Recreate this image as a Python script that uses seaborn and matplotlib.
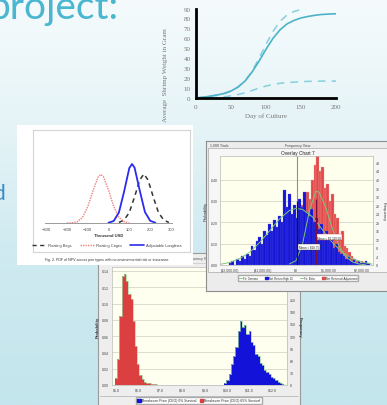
import numpy as np
import matplotlib
matplotlib.use("Agg")
import matplotlib.pyplot as plt
import seaborn as sns
from matplotlib.colors import LinearSegmentedColormap
from matplotlib.lines import Line2D
from matplotlib.patches import Patch

sns.set_style("white")
plt.rcParams["font.family"] = ["Liberation Sans", "DejaVu Sans"]

W, H = 387, 406

# ---------------- data ----------------
# Growth chart (top right)
culture_day = [0, 10, 20, 30, 40, 50, 60, 70, 80, 90, 100, 110, 120, 130, 140, 150, 160, 170, 180, 190, 200]
weight_expected = [0, 0.8, 1.8, 3, 4.5, 7, 11, 17, 26, 37, 49, 60, 68.5, 74.5, 78, 80.5, 82, 83.2, 84, 84.4, 84.7]
weight_upper = [0, 0.8, 1.8, 3, 4.5, 7, 11, 17, 27, 40, 54, 67, 77, 83.5, 87, 89, 90.5, 91.5, 92, 92.5, 93]
weight_lower = [0, 0.1, 0.3, 0.6, 1.2, 2.2, 3.5, 5.2, 7.5, 10, 12, 13.6, 14.8, 15.5, 16, 16.4, 16.7, 16.9, 17, 17, 17]

# PDF of NPV chart (left)
bags_npv = [50, 75, 100, 125, 150, 170, 190, 215, 240, 265, 290]
bags_pdf = [0.0001, 0.0006, 0.0021, 0.0052, 0.0086, 0.0098, 0.0086, 0.0052, 0.0021, 0.0006, 0.0001]
cages_npv = [-200, -175, -150, -125, -100, -75, -50, -37, -25, 0, 25, 50, 75, 100]
cages_pdf = [0.0, 0.00004, 0.00026, 0.0011, 0.0032, 0.0064, 0.0092, 0.0097, 0.0093, 0.0066, 0.0033, 0.0011, 0.00027, 0.0]
longlines_npv = [0, 25, 50, 75, 100, 113, 125, 150, 175, 200, 225]
longlines_pdf = [0.00005, 0.0004, 0.0021, 0.0063, 0.0110, 0.0118, 0.0111, 0.0065, 0.0022, 0.00045, 0.00005]
pdf_labels = ["Floating Bags", "Floating Cages", "Adjustable Longlines"]
pdf_ticks = [-300, -200, -100, 0, 100, 200, 300]

# Overlay chart (right)
high10_center = [-2000 + 75 * i for i in range(57)]
high10_freq = [1, 2, 0, 3, 2, 4, 3, 5, 4, 9, 7, 11, 13, 10, 16, 14, 19, 16, 21, 18, 23, 20, 35, 27, 33,
               24, 28, 22, 31, 27, 34, 25, 23, 26, 20, 22, 17, 19, 14, 16, 12, 13, 8, 10, 6, 5, 4, 3,
               4, 2, 3, 1, 2, 1, 1, 2, 1]
adj_center = [-400 + 75 * i for i in range(34)]
adj_freq = [3, 5, 7, 10, 13, 17, 20, 23, 28, 25, 34, 31, 40, 47, 51, 44, 46, 36, 38, 30, 33, 24, 22,
            14, 16, 9, 8, 6, 4, 3, 2, 1, 2, 1]
gamma_x = [-2300, -2000, -1700, -1400, -1100, -800, -500, -200, 0, 200, 500, 800, 1100, 1400, 1700, 2000, 2300]
gamma_y = [0.3, 1.2, 3, 6, 10.5, 16, 21.5, 25.5, 26.5, 26, 22.5, 16.5, 10.5, 6, 3, 1.3, 0.4]
beta_x = [-200, 0, 200, 400, 600, 700, 900, 1100, 1300, 1500, 1700, 1900, 2100]
beta_y = [0.5, 2, 10, 25, 34.5, 34, 27, 17, 9, 4, 1.5, 0.5, 0.1]
overlay_ticks = [-2000, -1000, 0, 1000, 2000]
overlay_ticklabels = ["($2,000.00)", "($1,000.00)", "$0", "$1,000.00", "$2,000.00"]
overlay_prob_ticks = [0, 10, 20, 30, 40]
overlay_prob_labels = [".000", ".010", ".020", ".030", ".040"]

# Breakeven chart (bottom)
red_center = [5.0 + 0.1 * i for i in range(20)]
red_prob = [0.008, 0.032, 0.085, 0.134, 0.136, 0.128, 0.112, 0.106, 0.078, 0.048, 0.026, 0.012,
            0.007, 0.004, 0.003, 0.002, 0.0015, 0.001, 0.001, 0.0005]
blue_center = [9.9 + 0.1 * i for i in range(27)]
blue_prob = [0.002, 0.006, 0.014, 0.026, 0.036, 0.047, 0.066, 0.079, 0.071, 0.074, 0.063, 0.066,
             0.053, 0.049, 0.038, 0.036, 0.027, 0.024, 0.019, 0.016, 0.013, 0.010, 0.008, 0.006,
             0.004, 0.002, 0.001]
be_ticks = [5, 6, 7, 8, 9, 10, 11, 12]
be_ticklabels = ["$5.0", "$6.0", "$7.0", "$8.0", "$9.0", "$10.0", "$11.0", "$12.0"]
be_prob_ticks = [0, 0.02, 0.04, 0.06, 0.08, 0.10, 0.12, 0.14]
be_freq_ticks = [0, 30, 60, 90, 120, 150, 180, 210]


def box(x0, y0, x1, y1):
    return [x0 / W, 1 - y1 / H, (x1 - x0) / W, (y1 - y0) / H]


def fx(x):
    return x / W


def fy(y):
    return 1 - y / H


def blank(ax, face, edge=None, lw=0.6):
    ax.set_facecolor(face)
    ax.set_xticks([])
    ax.set_yticks([])
    for s in ax.spines.values():
        if edge is None:
            s.set_visible(False)
        else:
            s.set_color(edge)
            s.set_linewidth(lw)


fig = plt.figure(figsize=(W / 100, H / 100), dpi=100)

# ---------------- background ----------------
bg = fig.add_axes([0, 0, 1, 1], zorder=0)
cmap = LinearSegmentedColormap.from_list(
    "slide", [(0, "#f5fbfc"), (0.3, "#e6f4f7"), (0.6, "#d0ebf1"), (1.0, "#c3e5ec")])
bg.imshow(np.linspace(0, 1, 256).reshape(-1, 1), aspect="auto", cmap=cmap, extent=[0, 1, 0, 1])
bg.set_xlim(0, 1)
bg.set_ylim(0, 1)
bg.axis("off")
bg.text(fx(-12), fy(19), "project:", transform=fig.transFigure, fontsize=28, color="#4ab6cf",
        family=["Lato", "DejaVu Sans"], fontweight="normal", va="baseline", ha="left")
bg.text(fx(-7), fy(200), "d", transform=fig.transFigure, fontsize=15, color="#3789c4",
        family=["Lato", "DejaVu Sans"], fontweight="normal", va="baseline", ha="left")

# ---------------- growth chart ----------------
ax1 = fig.add_axes(box(196, 9.5, 336, 99), zorder=2)
ax1.set_facecolor("none")
sns.lineplot(x=culture_day, y=weight_upper, ax=ax1, color="#86cfdf", lw=1.1, linestyle=(0, (5, 4)))
sns.lineplot(x=culture_day, y=weight_lower, ax=ax1, color="#86cfdf", lw=1.1, linestyle=(0, (5, 4)))
sns.lineplot(x=culture_day, y=weight_expected, ax=ax1, color="#4cb2c8", lw=1.2)
ax1.set_xlim(0, 200)
ax1.set_ylim(0, 90)
for s in ["top", "right"]:
    ax1.spines[s].set_visible(False)
for s in ["left", "bottom"]:
    ax1.spines[s].set_color("black")
    ax1.spines[s].set_linewidth(2)
ax1.set_xticks([0, 50, 100, 150, 200])
ax1.set_yticks(list(range(0, 91, 10)))
serif = ["Liberation Serif", "DejaVu Serif"]
ax1.tick_params(axis="y", length=0, pad=4, labelsize=5, labelcolor="#777777")
ax1.tick_params(axis="x", direction="in", length=2, width=1.5, color="black", pad=4,
                labelsize=5, labelcolor="#777777")
for t in ax1.get_xticklabels() + ax1.get_yticklabels():
    t.set_family(serif)
ax1.set_xlabel("Day of Culture", fontsize=5, color="#777777", family=serif, labelpad=3)
ax1.set_ylabel("")
ax1.text(fx(165), fy(75), "Average  Shrimp Weight in Gram", transform=fig.transFigure, rotation=90,
         ha="center", va="center", fontsize=5, color="#777777", family=serif)

# ---------------- PDF chart ----------------
pdf_bg = fig.add_axes(box(17, 126, 193, 266), zorder=2)
blank(pdf_bg, "white")
frame = fig.add_axes(box(33, 131, 190, 253), zorder=2.05)
blank(frame, "none", "#d4d4d4", 0.8)
ax2 = fig.add_axes(box(45, 140, 172, 224), zorder=2.1)
ax2.set_facecolor("none")
sns.lineplot(x=bags_npv, y=bags_pdf, ax=ax2, color="#333333", lw=1.1, linestyle=(0, (3, 2.5)))
sns.lineplot(x=cages_npv, y=cages_pdf, ax=ax2, color="#f07f7f", lw=1.0, linestyle=(0, (1, 0.8)))
sns.lineplot(x=longlines_npv, y=longlines_pdf, ax=ax2, color="#2b2bf0", lw=1.3)
ax2.set_xlim(-305, 305)
ax2.set_ylim(0, 0.0168)
for s in ["top", "right", "left"]:
    ax2.spines[s].set_visible(False)
ax2.spines["bottom"].set_color("#8a8a8a")
ax2.spines["bottom"].set_linewidth(0.6)
ax2.set_yticks([])
ax2.set_xticks(pdf_ticks)
ax2.tick_params(axis="x", length=1.5, width=0.5, color="#8a8a8a", pad=1.5, labelsize=3, labelcolor="#444444")
ax2.set_xlabel("Thousand USD", fontsize=3, fontweight="bold", color="#333333", labelpad=1)
ax2.set_ylabel("")
pdf_handles = [Line2D([], [], color="#333333", lw=1.0, linestyle=(0, (3, 2.5))),
               Line2D([], [], color="#f07f7f", lw=1.0, linestyle=(0, (1, 0.8))),
               Line2D([], [], color="#2b2bf0", lw=1.2)]
ax2.legend(pdf_handles, pdf_labels, ncol=3, loc="center", bbox_to_anchor=(fx(107), fy(246)),
           bbox_transform=fig.transFigure, fontsize=2.8, frameon=False, handlelength=3.5,
           columnspacing=2.2, handletextpad=0.5, labelcolor="#444444")
pdf_bg.text(fx(107), fy(260), "Fig. 2. PDF of NPV across pen types with no environmental risk or insurance.",
            transform=fig.transFigure, ha="center", va="center", fontsize=2.6, color="#333333")

# ---------------- breakeven window (bottom) ----------------
win3 = fig.add_axes(box(98, 254, 300, 412), zorder=1)
blank(win3, "#eeeeee", "#9a9a9a", 0.8)
win3.text(fx(199), fy(259), "Frequency View", transform=fig.transFigure, ha="center", va="center",
          fontsize=2.5, color="#444444")
win3.plot([fx(100), fx(298)], [fy(396.5), fy(396.5)], transform=fig.transFigure, color="#b0b0b0", lw=0.5)
win3.plot([fx(100), fx(298)], [fy(264), fy(264)], transform=fig.transFigure, color="#c8c8c8", lw=0.5)
ax4 = fig.add_axes(box(112, 268, 287, 386), zorder=1.1)
ax4.set_facecolor("#fffff0")
sns.histplot(x=red_center, weights=red_prob, binwidth=0.1, binrange=(4.95, 6.95), ax=ax4,
             color="#dc3f3f", alpha=1, linewidth=0, stat="count")
sns.histplot(x=blue_center, weights=blue_prob, binwidth=0.1, binrange=(9.85, 12.55), ax=ax4,
             color="#1212d8", alpha=1, linewidth=0, stat="count")
sns.histplot(x=red_center, weights=red_prob, binwidth=0.1, binrange=(4.95, 6.95), ax=ax4,
             element="step", fill=False, color="#9fd69f", lw=0.5, stat="count")
sns.histplot(x=blue_center, weights=blue_prob, binwidth=0.1, binrange=(9.85, 12.55), ax=ax4,
             element="step", fill=False, color="#9fd69f", lw=0.5, stat="count")
ax4.plot([6.95, 9.85], [0.0004, 0.0004], color="#9fd69f", lw=0.6)
ax4.set_xlim(4.82, 12.67)
ax4.set_ylim(0, 0.1449)
ax4.set_yticks(be_prob_ticks)
ax4.set_yticklabels([f"{v:.2f}" for v in be_prob_ticks])
ax4.set_xticks(be_ticks)
ax4.set_xticklabels(be_ticklabels)
ax4.grid(axis="y", color="#d6d6cc", lw=0.6)
ax4.grid(axis="x", visible=False)
for s in ax4.spines.values():
    s.set_color("#b8b8b8")
    s.set_linewidth(0.5)
ax4.tick_params(length=0, pad=2, labelsize=2.6, labelcolor="#444444")
ax4.set_xlabel("")
ax4.set_ylabel("Probability", fontsize=3, fontweight="bold", color="#333333", labelpad=2)
ax4r = ax4.twinx()
ax4r.set_zorder(1.11)
ax4r.set_ylim(0, 0.1449 * 2000)
ax4r.set_yticks(be_freq_ticks)
ax4r.tick_params(length=0, pad=2, labelsize=2.6, labelcolor="#444444")
for s in ax4r.spines.values():
    s.set_visible(False)
ax4r.set_ylabel("Frequency", fontsize=3, fontweight="bold", color="#333333", rotation=270, labelpad=4)
be_handles = [Patch(color="#1212d8"), Patch(color="#dc3f3f")]
ax4.legend(be_handles, ["Breakeven Price (CEO) 0% Survival", "Breakeven Price (CEO) 65% Survival"],
           ncol=2, loc="center", bbox_to_anchor=(fx(199), fy(401.5)), bbox_transform=fig.transFigure,
           fontsize=2.4, frameon=True, fancybox=False, edgecolor="#aaaaaa", framealpha=1,
           handlelength=1.0, handleheight=1.0, borderpad=0.4, columnspacing=1.0, handletextpad=0.4)

# ---------------- overlay window (right) ----------------
win2 = fig.add_axes(box(206, 142, 389, 292), zorder=3)
blank(win2, "#ececec", "#8e8e8e", 0.8)
win2.text(fx(210), fy(146), "1,000 Trials", transform=fig.transFigure, ha="left", va="center",
          fontsize=2.5, color="#444444")
win2.text(fx(298), fy(146), "Frequency View", transform=fig.transFigure, ha="center", va="center",
          fontsize=2.5, color="#444444")
inner2 = fig.add_axes(box(208, 149, 387, 273), zorder=3.05)
blank(inner2, "#f6f6f6", "#b4b4b4", 0.6)
inner2.text(fx(298), fy(153.5), "Overlay Chart 7", transform=fig.transFigure, ha="center", va="center",
            fontsize=3.4, color="#222222")
ax3 = fig.add_axes(box(220, 157, 373, 266), zorder=3.1)
ax3.set_facecolor("#ffffee")
sns.histplot(x=adj_center, weights=adj_freq, binwidth=75, binrange=(-437.5, 2112.5), ax=ax3,
             color="#e24848", alpha=1, edgecolor="#f2a0a0", linewidth=0.25, stat="count")
sns.histplot(x=high10_center, weights=high10_freq, binwidth=75, binrange=(-2037.5, 2237.5), ax=ax3,
             color="#1515d6", alpha=1, edgecolor="#5a5ae6", linewidth=0.2, stat="count")
sns.lineplot(x=gamma_x, y=gamma_y, ax=ax3, color="#7cc87c", lw=0.7)
sns.lineplot(x=beta_x, y=beta_y, ax=ax3, color="#7cc87c", lw=0.7)
ax3.axvline(40, color="#7e9e7e", lw=0.8)
ax3.vlines(20, 0, 30, color="#10104a", lw=0.9)
ax3.vlines(620, 0, 31, color="#7a1040", lw=0.9)
ax3.text(390, 8.5, "Mean = $18.75", fontsize=2.2, ha="center", va="center", color="#222222",
         bbox=dict(boxstyle="square,pad=0.25", fc="white", ec="#333333", lw=0.3))
ax3.text(1010, 13, "Mean = $1,119.50", fontsize=2.2, ha="center", va="center", color="#222222",
         bbox=dict(boxstyle="square,pad=0.25", fc="white", ec="#cc3333", lw=0.3))
ax3.set_xlim(-2300, 2330)
ax3.set_ylim(0, 51)
ax3.set_xticks(overlay_ticks)
ax3.set_xticklabels(overlay_ticklabels)
ax3.set_yticks(overlay_prob_ticks)
ax3.set_yticklabels(overlay_prob_labels)
ax3.grid(axis="y", color="#d6d6cc", lw=0.6)
ax3.grid(axis="x", visible=False)
ax3.set_axisbelow(True)
for s in ax3.spines.values():
    s.set_color("#b8b8b8")
    s.set_linewidth(0.5)
ax3.tick_params(length=0, pad=2, labelsize=2.5, labelcolor="#444444")
ax3.set_xlabel("")
ax3.set_ylabel("Probability", fontsize=3, color="#333333", labelpad=2)
ax3r = ax3.twinx()
ax3r.set_zorder(3.11)
ax3r.set_ylim(0, 51)
ax3r.set_yticks(list(range(0, 49, 4)))
ax3r.tick_params(length=0, pad=2, labelsize=2.5, labelcolor="#444444")
for s in ax3r.spines.values():
    s.set_visible(False)
ax3r.set_ylabel("Frequency", fontsize=3, color="#333333", rotation=270, labelpad=4)
ov_handles = [Line2D([], [], color="#7cc87c", lw=0.7), Patch(color="#1515d6"),
              Line2D([], [], color="#7cc87c", lw=0.7), Patch(color="#e24848")]
ax3.legend(ov_handles, ["Fit: Gamma", "Net Return High 10", "Fit: Beta", "Net Return w/ Adjustment"],
           ncol=4, loc="center", bbox_to_anchor=(fx(298), fy(279)), bbox_transform=fig.transFigure,
           fontsize=2.0, frameon=True, fancybox=False, edgecolor="#aaaaaa", framealpha=1,
           handlelength=1.1, handleheight=1.0, borderpad=0.4, columnspacing=2.6, handletextpad=0.4)

fig.savefig("out.png", dpi=100)
